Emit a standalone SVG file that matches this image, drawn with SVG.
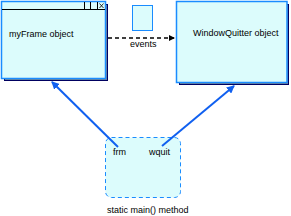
<svg xmlns="http://www.w3.org/2000/svg" width="291" height="216" viewBox="0 0 291 216">
<style>
.box{fill:#dcfcfc;stroke:#1a8cff;stroke-width:1.5}
.shadow{fill:#708090;stroke:#000060;stroke-width:1}
.t{font-family:"Liberation Sans",Arial,sans-serif;font-size:9px;fill:#000}
.arr{stroke:#1060f0;stroke-width:2;fill:none}
</style>
<defs>
<marker id="bh" markerWidth="8" markerHeight="8" refX="7" refY="4" orient="auto" markerUnits="userSpaceOnUse">
<path d="M0,0 L8,4 L0,8 z" fill="#1060f0"/>
</marker>
<marker id="kh" markerWidth="6" markerHeight="6" refX="5" refY="3" orient="auto" markerUnits="userSpaceOnUse">
<path d="M0,0 L6,3 L0,6 z" fill="#000"/>
</marker>
</defs>
<g id="myFrame">
<rect class="shadow" x="4.5" y="4.5" width="103" height="76"/>
<rect class="box" x="1.5" y="1.5" width="104" height="77"/>
<line x1="2" y1="9.5" x2="105" y2="9.5" stroke="#000" stroke-width="1"/>
<line x1="84.5" y1="2" x2="84.5" y2="9" stroke="#000"/>
<line x1="90.5" y1="2" x2="90.5" y2="9" stroke="#000"/>
<line x1="97.5" y1="2" x2="97.5" y2="9" stroke="#000"/>
<path d="M99.5,3.5 L103.5,8 M103.5,3.5 L99.5,8" stroke="#000" stroke-width="0.8"/>
<text class="t" x="9" y="37">myFrame object</text>
</g>
<g id="event">
<rect x="132.5" y="5.5" width="20" height="25" fill="#dcfcfc" stroke="#1a8cff" stroke-width="1"/>
</g>
<g id="WindowQuitter">
<rect class="shadow" x="179.5" y="4.5" width="109" height="80"/>
<rect class="box" x="176.5" y="1.5" width="110.5" height="81"/>
<text class="t" x="193" y="36">WindowQuitter object</text>
</g>
<g id="main">
<rect x="105.5" y="137.5" width="75" height="60" rx="6" fill="#dcfcfc" stroke="#1a8cff" stroke-width="1" stroke-dasharray="4,3"/>
<text class="t" x="113" y="155">frm</text>
<text class="t" x="149" y="155">wquit</text>
<text class="t" x="107" y="213">static main() method</text>
</g>
<g id="connectors">
<line x1="108" y1="38" x2="174" y2="38" stroke="#000" stroke-width="1.5" stroke-dasharray="4,3" marker-end="url(#kh)"/>
<text class="t" x="130" y="47">events</text>
<line class="arr" x1="118" y1="147" x2="52" y2="82" marker-end="url(#bh)"/>
<line class="arr" x1="162" y1="146" x2="234" y2="86" marker-end="url(#bh)"/>
</g>
</svg>
